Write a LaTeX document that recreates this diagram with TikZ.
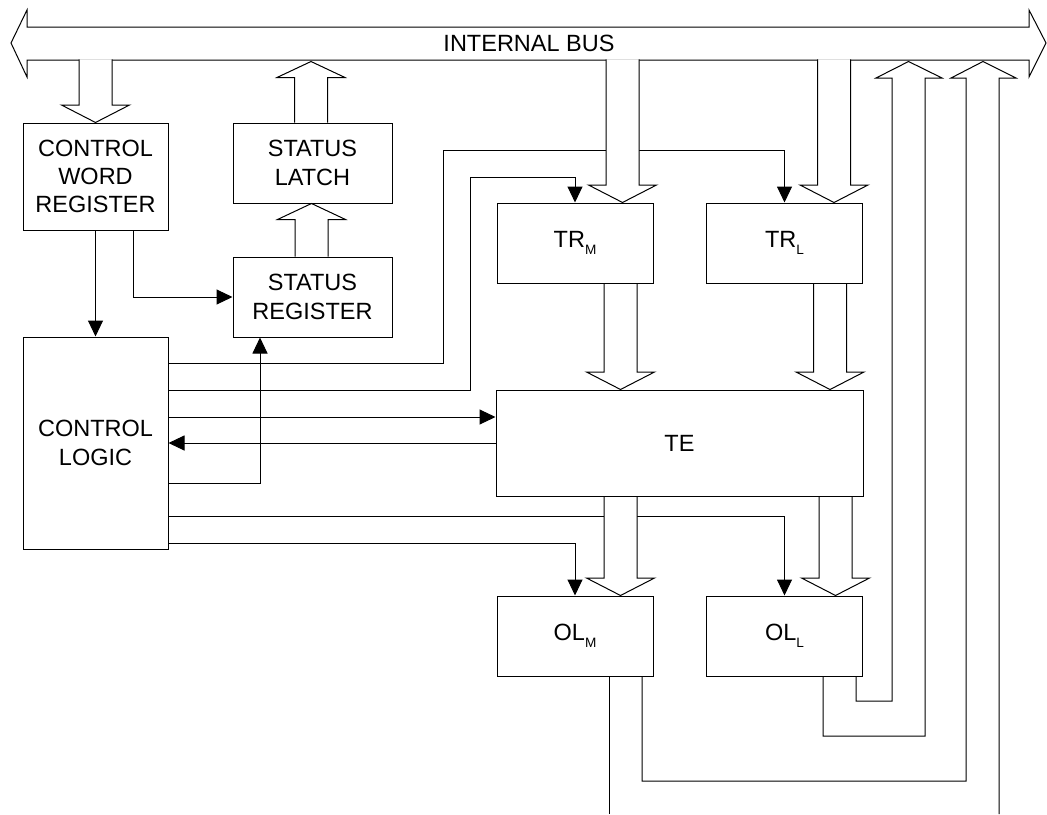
\documentclass[tikz,border=0pt]{standalone}
\usepackage{fontspec}
\setmainfont{Liberation Sans}
\usetikzlibrary{arrows.meta, calc, backgrounds}

% hollow bus arrows: shaft from #1, tip at #2
\newcommand{\fatdn}[2]{%
  \draw[fat] let \p1=(#1), \p2=(#2) in
    (\x2-8.25pt,\y1) -- (\x2-8.25pt,\y2+8.75pt) -- (\x2-17pt,\y2+8.75pt) -- (\x2,\y2)
    -- (\x2+17pt,\y2+8.75pt) -- (\x2+8.25pt,\y2+8.75pt) -- (\x2+8.25pt,\y1);}
\newcommand{\fatup}[2]{%
  \draw[fat] let \p1=(#1), \p2=(#2) in
    (\x2-8.25pt,\y1) -- (\x2-8.25pt,\y2-8pt) -- (\x2-17pt,\y2-8pt) -- (\x2,\y2)
    -- (\x2+17pt,\y2-8pt) -- (\x2+8.25pt,\y2-8pt) -- (\x2+8.25pt,\y1);}
% byte index (M/L)
\newcommand{\lowidx}[1]{\raisebox{-3.6pt}{\fontsize{6.8}{7}\selectfont #1}}

\begin{document}
\begin{tikzpicture}[
  x=0.5pt, y=-0.5pt,
  every node/.style={font=\fontsize{11.75}{14.2}\selectfont},
  blk/.style={draw, line width=0.5pt, align=center, inner sep=0pt},
  reg/.style={blk, minimum width=78pt, minimum height=40pt},
  ctl/.style={blk, minimum width=72.5pt},
  ln/.style={line width=0.5pt},
  arr/.style={ln, -{Triangle[length=8pt, width=7.5pt]}},
  fat/.style={ln, fill=white}
]
\useasboundingbox (0,0) rectangle (1047,814);

% blocks
\node[ctl, minimum height=53.5pt] (cwr) at (95.5,176.5) {CONTROL\\WORD\\REGISTER};
\node[reg, minimum width=79.5pt] (sl) at (312.5,163) {STATUS\\LATCH};
\node[reg, minimum width=79.5pt] (sr) at (312.5,297) {STATUS\\REGISTER};
\node[ctl, minimum height=106pt] (cl) at (95.5,443) {CONTROL\\LOGIC};
\node[reg] (trM) at (575,243) {TR\lowidx{M}};
\node[reg] (trL) at (784.5,243) {TR\lowidx{L}};
\node[blk, minimum width=183.5pt, minimum height=53pt] (te) at (679.5,443) {TE};
\node[reg] (olM) at (575,636) {OL\lowidx{M}};
\node[reg] (olL) at (784.5,636) {OL\lowidx{L}};
\node (bus) at (529,43) {INTERNAL BUS};

\coordinate (busD) at (0,59.4);
\coordinate (busU) at (0,61.5);
\coordinate (outM) at (609,814);
\coordinate (outB) at (999,814);

\begin{scope}[on background layer]
% internal bus
\draw[fat] (11,43) -- (27,10) -- (27,27) -- (1029,27) -- (1029,10) -- (1046,43)
  -- (1029,77) -- (1029,60) -- (27,60) -- (27,77) -- cycle;

% control signals
\draw[arr] (cwr.south) -- (cl.north);
\draw[arr] (cwr.south -| 133,0) |- (sr.west);
\draw[arr] (cl.east |- 0,363) -| (443,150) -| (trL.north);
\draw[arr] (cl.east |- 0,390) -| (470,177) -| (trM.north);
\draw[arr] (cl.east |- 0,417) -- (te.west |- 0,417);
\draw[arr] (te.west) -- (cl.east);
\draw[arr] (cl.east |- 0,483) -| (sr.south -| 260,0);
\draw[arr] (cl.east |- 0,516) -| (olL.north);
\draw[arr] (cl.east |- 0,543) -| (olM.north);

% data paths
\fatdn{busD}{cwr.north}
\fatdn{busD}{trM.north -| 622.5,0}
\fatdn{busD}{trL.north -| 834,0}
\fatdn{trM.south}{te.north -| 620.5,0}
\fatdn{trL.south}{te.north -| 830,0}
\fatdn{te.south}{olM.north -| 620.5,0}
\fatdn{te.south}{olL.north -| 835.5,0}
\fatup{sl.north}{busU -| 311,0}
\fatup{sr.north}{sl.south -| 311.5,0}

% output latches
\draw[ln] (olL.south -| 856,0) |- (892,701) -- (892,78) -- (876,78) -- (busU -| 908.5,0)
  -- (942,78) -- (925,78) |- (823,736) -- (olL.south -| 823,0);
\draw[ln] (olM.south -| 642,0) |- (966,781) -- (966,78) -- (951,78) -- (busU -| 983,0)
  -- (1016,78) -- (999,78) -- (outB);
\draw[ln] (olM.south -| 609,0) -- (outM);
\end{scope}
\end{tikzpicture}
\end{document}
